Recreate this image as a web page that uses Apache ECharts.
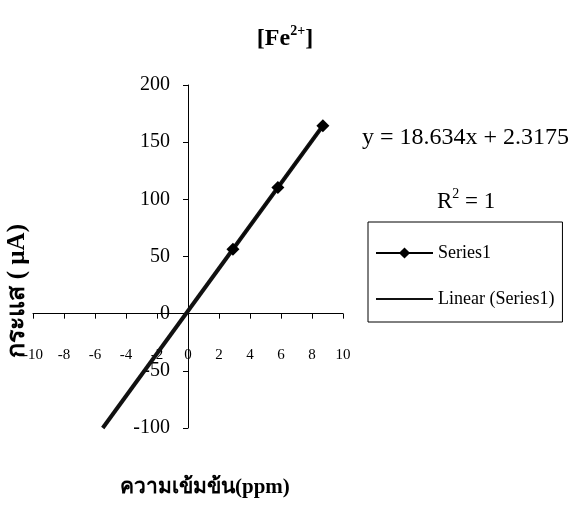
<!DOCTYPE html>
<html>
<head>
<meta charset="utf-8">
<script src="https://cdn.jsdelivr.net/npm/echarts@6/dist/echarts.min.js"></script>
<style>
  html, body { margin: 0; padding: 0; background: #fff; }
  #ec { width: 570px; height: 520px; }
</style>
</head>
<body>
<div id="ec"></div>
<script>
// values
var concX = [2.9, 5.8, 8.7];
var currentY = [56.4, 110.4, 164.4];
var trendX = [-5.5, 8.7];
var trendY = [-100, 164.4];
var xTicks = [-10, -8, -6, -4, -2, 0, 2, 4, 6, 8, 10];
var yTicks = [-100, -50, 0, 50, 100, 150, 200];

var serif = '"Liberation Serif", "Times New Roman", serif';
var thai = '"Liberation Serif", "Noto Sans", "DejaVu Sans", sans-serif';

var myChart = echarts.init(document.getElementById('ec'));

var pts = concX.map(function (x, i) { return [x, currentY[i]]; });
var trend = trendX.map(function (x, i) { return [x, trendY[i]]; });

// grid box, axes cross at zero
var gLeft = 33, gRight = 227, gTop = 85, gBottom = 92;
var plotW = 570 - gLeft - gRight, plotH = 520 - gTop - gBottom;
var xMin = xTicks[0], xMax = xTicks[xTicks.length - 1];
var yMin = yTicks[0], yMax = yTicks[yTicks.length - 1];
var yAxisOffset = -plotW * (0 - xMin) / (xMax - xMin);
var xAxisOffset = -plotH * (0 - yMin) / (yMax - yMin);

var option = {
    animation: false,
    backgroundColor: '#fff',
    title: {
        left: 'center',
        top: 19,
        text: '{b|[Fe}{s|2+}{b|]}',
        textStyle: {
            rich: {
                b: { fontFamily: serif, fontSize: 24, fontWeight: 'bold', color: '#000', lineHeight: 30 },
                s: { fontFamily: serif, fontSize: 14, fontWeight: 'bold', color: '#000', lineHeight: 30, padding: [0, 0, 16, 0] }
            }
        }
    },
    grid: { left: gLeft, right: gRight, top: gTop, bottom: gBottom, outerBoundsMode: 'none' },
    legend: {
        orient: 'vertical',
        left: 368,
        top: 222,
        padding: [22, 8, 14, 7],
        itemGap: 28,
        itemWidth: 57,
        itemHeight: 14,
        borderColor: '#000',
        borderWidth: 1,
        textStyle: { fontFamily: serif, fontSize: 18, color: '#000' },
        data: [
            { name: 'Series1' },
            { name: 'Linear (Series1)', itemStyle: { opacity: 0 } }
        ]
    },
    xAxis: {
        type: 'value',
        min: xMin,
        max: xMax,
        interval: 2,
        offset: xAxisOffset,
        splitLine: { show: false },
        axisLine: { onZero: false, lineStyle: { color: '#000', width: 1 } },
        axisTick: { length: 5, lineStyle: { color: '#000' } },
        axisLabel: { margin: 34, fontFamily: serif, fontSize: 15, color: '#000' }
    },
    yAxis: {
        type: 'value',
        min: yMin,
        max: yMax,
        interval: 50,
        offset: yAxisOffset,
        splitLine: { show: false },
        axisLine: { onZero: false, lineStyle: { color: '#000', width: 1 } },
        axisTick: { length: 5, lineStyle: { color: '#000' } },
        axisLabel: { margin: 18, fontFamily: serif, fontSize: 20, color: '#000' }
    },
    graphic: [
        {
            type: 'text', left: 362, top: 126,
            style: { text: 'y = 18.634x + 2.3175', font: '24px ' + serif, fill: '#000' }
        },
        {
            type: 'text', left: 437, top: 187,
            style: {
                text: '{r|R}{s|2}{r| = 1}',
                rich: {
                    r: { fontFamily: serif, fontSize: 23, color: '#000', lineHeight: 28 },
                    s: { fontFamily: serif, fontSize: 14, color: '#000', lineHeight: 28, padding: [0, 0, 15, 0] }
                }
            }
        },
        {
            type: 'text', left: 120, top: 477,
            style: { text: 'ความเข้มข้น(ppm)', font: 'bold 21px ' + thai, fill: '#000' }
        },
        {
            type: 'text', left: 5, top: 224, rotation: Math.PI / 2,
            style: { text: 'กระแส ( µA)', font: 'bold 25px ' + thai, fill: '#000' }
        }
    ],
    series: [
        {
            name: 'Series1',
            type: 'line',
            data: pts,
            symbol: 'diamond',
            symbolSize: 13,
            itemStyle: { color: '#000' },
            lineStyle: { color: '#000', width: 1 },
            z: 3
        },
        {
            name: 'Linear (Series1)',
            type: 'line',
            data: trend,
            symbol: 'none',
            itemStyle: { color: '#111' },
            lineStyle: { color: '#111', width: 4 },
            z: 2
        }
    ]
};

myChart.setOption(option);
</script>
</body>
</html>
